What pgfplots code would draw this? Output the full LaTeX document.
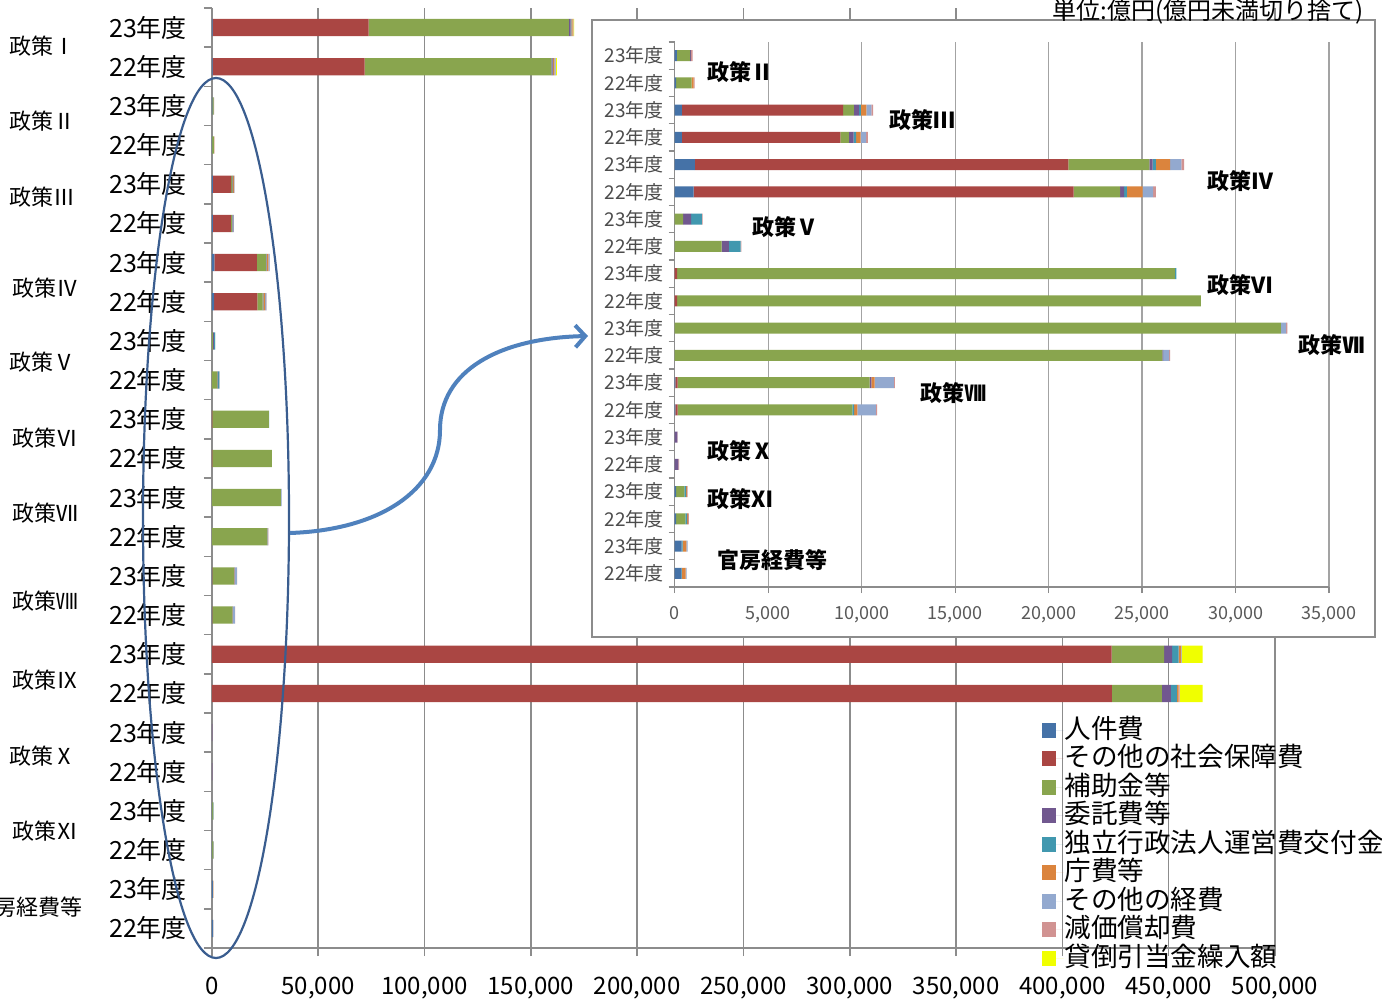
\documentclass[border=0pt]{standalone}
\usepackage{fontspec}
\setmainfont{Noto Sans CJK JP}
\usepackage{pgfplots}
\pgfplotsset{compat=1.18}
\usepackage{pgfplotstable}
\usetikzlibrary{arrows.meta}

\definecolor{cA}{HTML}{4572A7}
\definecolor{cB}{HTML}{AA4643}
\definecolor{cC}{HTML}{89A54E}
\definecolor{cD}{HTML}{71588F}
\definecolor{cE}{HTML}{4198AF}
\definecolor{cF}{HTML}{DB843D}
\definecolor{cG}{HTML}{93A9CF}
\definecolor{cH}{HTML}{D19392}
\definecolor{cI}{HTML}{F0FF00}
\definecolor{gridc}{HTML}{8C8C8C}
\definecolor{ellc}{HTML}{3A5D8F}
\definecolor{arrc}{HTML}{4F81BD}

% columns: a 人件費, b その他の社会保障費, c 補助金等, d 委託費等, e 独立行政法人運営費交付金,
% f 庁費等, g その他の経費, h 減価償却費, i 貸倒引当金繰入額
\pgfplotstableread{
y a b c d e f g h i
23 300 73400 94200 800 300 600 300 100 300
22 300 71500 87800 600 300 500 600 100 500
21 120 0 700 50 0 0 0 90 0
20 70 0 840 0 0 100 0 50 0
19 390 8620 570 285 90 300 270 90 0
18 390 8470 460 250 140 230 300 90 0
17 1085 19970 4335 170 180 760 600 150 0
16 1015 20325 2490 215 145 835 570 145 0
15 0 0 445 427 587 0 0 40 0
14 0 0 2510 390 623 0 0 40 0
13 0 125 26625 0 90 0 0 0 0
12 0 125 28015 0 0 0 0 0 0
11 0 0 32430 0 0 0 270 70 0
10 0 0 26090 30 0 0 325 55 0
9 40 110 10280 90 0 180 1030 50 0
8 40 110 9355 0 90 180 980 70 0
7 0 423200 24600 3800 3100 1100 300 0 9900
6 0 423300 23500 4200 2800 900 0 400 10800
5 0 0 0 140 0 0 0 10 0
4 0 0 0 195 0 0 0 35 0
3 70 0 445 0 90 50 0 35 0
2 70 0 500 0 90 50 0 50 0
1 375 0 0 0 55 195 70 0 0
0 355 0 0 0 35 195 55 0 0
}\maindata

\pgfplotstableread{
y a b c d e f g h i
19 120 0 700 50 0 0 0 90 0
18 70 0 840 0 0 100 0 50 0
17 390 8620 570 285 90 300 270 90 0
16 390 8470 460 250 140 230 300 90 0
15 1085 19970 4335 170 180 760 600 150 0
14 1015 20325 2490 215 145 835 570 145 0
13 0 0 445 427 587 0 0 40 0
12 0 0 2510 390 623 0 0 40 0
11 0 125 26625 0 90 0 0 0 0
10 0 125 28015 0 0 0 0 0 0
9 0 0 32430 0 0 0 270 70 0
8 0 0 26090 30 0 0 325 55 0
7 40 110 10280 90 0 180 1030 50 0
6 40 110 9355 0 90 180 980 70 0
5 0 0 0 140 0 0 0 10 0
4 0 0 0 195 0 0 0 35 0
3 70 0 445 0 90 50 0 35 0
2 70 0 500 0 90 50 0 50 0
1 375 0 0 0 55 195 70 0 0
0 355 0 0 0 35 195 55 0 0
}\insetdata

\newcommand\stackplots[1]{%
  \addplot[fill=cA,draw=none] table[x=a,y=y]{#1};
  \addplot[fill=cB,draw=none] table[x=b,y=y]{#1};
  \addplot[fill=cC,draw=none] table[x=c,y=y]{#1};
  \addplot[fill=cD,draw=none] table[x=d,y=y]{#1};
  \addplot[fill=cE,draw=none] table[x=e,y=y]{#1};
  \addplot[fill=cF,draw=none] table[x=f,y=y]{#1};
  \addplot[fill=cG,draw=none] table[x=g,y=y]{#1};
  \addplot[fill=cH,draw=none] table[x=h,y=y]{#1};
  \addplot[fill=cI,draw=none] table[x=i,y=y]{#1};
}

\begin{document}
\begin{tikzpicture}
% ---------------- main axis ----------------
\begin{axis}[
  at={(106pt,25pt)}, anchor=south west,
  scale only axis, width=531.5pt, height=470pt,
  xbar stacked, bar width=0.44,
  xmin=0, xmax=500000, ymin=-0.5, ymax=23.5,
  axis x line*=bottom, axis y line*=left,
  axis line style={draw=gridc, line width=0.9pt, -},
  xtick={0,50000,100000,150000,200000,250000,300000,350000,400000,450000,500000},
  minor xtick={0,50000,100000,150000,200000,250000,300000,350000,400000,450000,500000},
  xmajorgrids, grid style={draw=gridc, line width=0.8pt},
  ytick={0,...,23},
  yticklabels={22年度,23年度,22年度,23年度,22年度,23年度,22年度,23年度,22年度,23年度,22年度,23年度,22年度,23年度,22年度,23年度,22年度,23年度,22年度,23年度,22年度,23年度,22年度,23年度},
  minor ytick={-0.5,0.5,...,23.5},
  major tick length=0pt, minor tick length=4pt, tick align=outside,
  tick style={draw=gridc, line width=0.8pt},
  scaled x ticks=false,
  /pgf/number format/fixed,
  /pgf/number format/1000 sep={,},
  /pgf/number format/assume math mode=true,
  xticklabel style={font=\fontsize{12}{12}\selectfont, yshift=-11pt},
  yticklabel style={font=\fontsize{12.5}{13}\selectfont, xshift=-9pt},
  legend cell align=left,
  legend style={at={(0.780,0.246)}, anchor=north west, draw=none, fill=none,
    font=\fontsize{13.3}{13.3}\selectfont, row sep=1.05pt, inner sep=0pt,
    nodes={inner sep=0.5pt, text height=10pt, text depth=2.2pt}},
  legend image code/.code={\fill[#1] (0pt,-3.7pt) rectangle (7.4pt,3.7pt); \path (0pt,0pt) -- (11pt,0pt);},
]
\stackplots{\maindata}
\legend{人件費,その他の社会保障費,補助金等,委託費等,独立行政法人運営費交付金,庁費等,その他の経費,減価償却費,貸倒引当金繰入額}
\end{axis}

\begin{scope}[x=0.5pt,y=-0.5pt,shift={(0pt,499pt)}]
  % ellipse
  \draw[ellc, line width=1.1pt] (216,518) ellipse [x radius=36.5pt, y radius=220pt];
  % inset frame
  \draw[gridc, line width=1pt, fill=white] (592,20) rectangle (1375,637);
  % group labels main
  \begin{scope}[every node/.style={font=\fontsize{11}{11}\selectfont, anchor=center}]
  \node at (43,46) {政策Ⅰ};
  \node at (43,121) {政策Ⅱ};
  \node at (43,197) {政策Ⅲ};
  \node at (45,288) {政策Ⅳ};
  \node at (43,362) {政策Ⅴ};
  \node at (45,438) {政策Ⅵ};
  \node at (45,513) {政策Ⅶ};
  \node at (45,601) {政策Ⅷ};
  \node at (45,680) {政策Ⅸ};
  \node at (43,756) {政策Ⅹ};
  \node at (45,831) {政策Ⅺ};
  \node[anchor=east] at (90,907) {官房経費等};
  \end{scope}
\end{scope}

% ---------------- inset axis ----------------
\begin{axis}[
  at={(337.35pt,205.5pt)}, anchor=south west,
  scale only axis, width=327.15pt, height=272.5pt,
  xbar stacked, bar width=0.4,
  xmin=0, xmax=35000, ymin=-0.5, ymax=19.5,
  axis x line*=bottom, axis y line*=left,
  axis line style={draw=gridc, line width=0.7pt, -},
  xtick={0,5000,10000,15000,20000,25000,30000,35000},
  minor xtick={0,5000,10000,15000,20000,25000,30000,35000},
  xmajorgrids, grid style={draw=gridc!80, line width=0.6pt},
  ytick={0,...,19},
  yticklabels={22年度,23年度,22年度,23年度,22年度,23年度,22年度,23年度,22年度,23年度,22年度,23年度,22年度,23年度,22年度,23年度,22年度,23年度,22年度,23年度},
  minor ytick={-0.5,0.5,...,19.5},
  major tick length=0pt, minor tick length=3pt, tick align=outside,
  tick style={draw=gridc, line width=0.6pt},
  scaled x ticks=false,
  /pgf/number format/fixed,
  /pgf/number format/1000 sep={,},
  /pgf/number format/assume math mode=true,
  xticklabel style={font=\fontsize{9}{9}\selectfont, text=black!65, yshift=-6pt},
  yticklabel style={font=\fontsize{9.5}{10}\selectfont, text=black!70, xshift=-2pt},
]
\stackplots{\insetdata}
\end{axis}

\begin{scope}[x=0.5pt,y=-0.5pt,shift={(0pt,499pt)}]
  % arrow
  \draw[arrc, line width=2pt, -{Straight Barb[length=5pt,width=11pt]}]
    (290,533) .. controls (380,530) and (440,490) .. (440,430)
    .. controls (440,370) and (500,338) .. (588,336);
  % inset group labels
  \begin{scope}[every node/.style={font=\bfseries\fontsize{11}{11}\selectfont, anchor=center}]
  \node at (740,72) {政策Ⅱ};
  \node at (922,120) {政策Ⅲ};
  \node at (1240,181) {政策Ⅳ};
  \node at (785,227) {政策Ⅴ};
  \node at (1240,285) {政策Ⅵ};
  \node at (1331,345) {政策Ⅶ};
  \node at (953,393) {政策Ⅷ};
  \node at (740,451) {政策Ⅹ};
  \node at (740,499) {政策Ⅺ};
  \node at (772,560) {官房経費等};
  \end{scope}
  \node[anchor=east, font=\fontsize{12}{12}\selectfont, inner sep=1pt] at (1366,12) {単位:億円(億円未満切り捨て)};
\end{scope}

\pgfresetboundingbox
\useasboundingbox (0pt,0pt) rectangle (691pt,499pt);
\end{tikzpicture}
\end{document}
